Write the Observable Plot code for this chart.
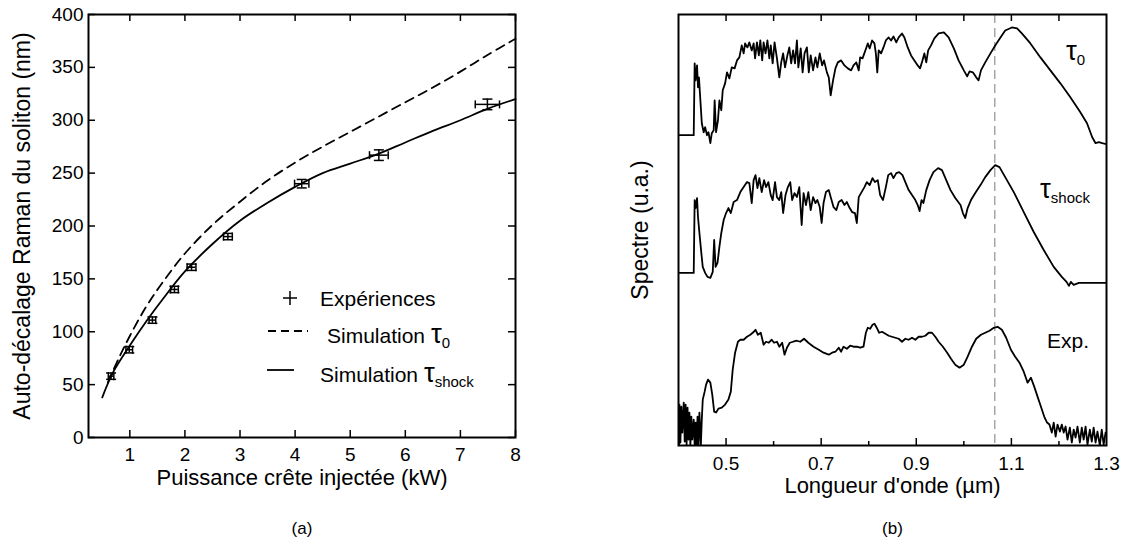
<!DOCTYPE html>
<html><head><meta charset="utf-8">
<script src="https://cdn.jsdelivr.net/npm/d3@7"></script>
<script src="https://cdn.jsdelivr.net/npm/@observablehq/plot@0.6"></script>
<style>
body{margin:0;background:#fff;}
#wrap{position:relative;width:1125px;height:551px;overflow:hidden;background:#fff;font-family:"Liberation Sans",Arial,sans-serif;color:#000;}
#pa,#pb{position:absolute;top:0}
#pa{left:0}
#pb{left:600px}
.lbl{position:absolute;white-space:nowrap;line-height:1;}
.tau{font-size:1.3em;}
.sub{font-size:15px;position:relative;top:5px;}
svg.sw{position:absolute;overflow:visible}
</style></head><body>
<div id="wrap">
<div id="pa"></div><div id="pb"></div>
<svg class="sw" style="left:0;top:0" width="1125" height="551">
  <line x1="283" y1="298" x2="297" y2="298" stroke="#000" stroke-width="1.5"/>
  <line x1="290" y1="291" x2="290" y2="305" stroke="#000" stroke-width="1.5"/>
  <line x1="268" y1="331" x2="308" y2="331" stroke="#000" stroke-width="1.8" stroke-dasharray="8,5"/>
  <line x1="267" y1="370" x2="294" y2="370" stroke="#000" stroke-width="1.8"/>
</svg>
<div class="lbl" style="left:320px;top:288px;font-size:21px">Expériences</div>
<div class="lbl" style="left:327px;top:320px;font-size:21px">Simulation <span class="tau">τ</span><span class="sub">0</span></div>
<div class="lbl" style="left:320px;top:359px;font-size:21px">Simulation <span class="tau">τ</span><span class="sub">shock</span></div>
<div class="lbl" style="left:1066px;top:37px;font-size:21px"><span class="tau">τ</span><span class="sub">0</span></div>
<div class="lbl" style="left:1040px;top:175px;font-size:21px"><span class="tau">τ</span><span class="sub">shock</span></div>
<div class="lbl" style="left:1047px;top:330px;font-size:21px">Exp.</div>
</div>
<script>
// ---------- Panel (a) data ----------
const expPowerKW = [0.66, 0.99, 1.41, 1.81, 2.12, 2.78, 4.12, 5.52, 7.49];
const expShiftNm = [58, 83, 111, 140, 161, 190, 240, 267, 315];
const expPowerErr = [0.05, 0.06, 0.06, 0.07, 0.08, 0.08, 0.13, 0.17, 0.22];
const expShiftErr = [3, 3, 3, 3, 3, 3, 4, 5, 5];

const simTau0Power = [0.6, 0.8, 1.0, 1.3, 1.6, 2.0, 2.5, 3.0, 3.5, 4.0, 4.5, 5.0, 5.5, 6.0, 6.5, 7.0, 7.5, 8.0];
const simTau0Shift = [52, 75, 96, 124, 147, 174, 201, 223, 243, 260, 275, 289, 303, 317, 331, 346, 362, 377];

const simShockPower = [0.5, 0.7, 1.0, 1.3, 1.6, 2.0, 2.5, 3.0, 3.5, 4.0, 4.5, 5.0, 5.5, 6.0, 6.5, 7.0, 7.5, 8.0];
const simShockShift = [38, 62, 87, 110, 131, 157, 183, 205, 222, 237, 250, 259, 268, 279, 290, 300, 311, 320];

const xTicksA = [1, 2, 3, 4, 5, 6, 7, 8];
const yTicksA = [0, 50, 100, 150, 200, 250, 300, 350, 400];

// ---------- Panel (b) data (spectra, arbitrary units incl. vertical offset) ----------
const tau0Lam = [0.400,0.432,0.434,0.436,0.439,0.441,0.443,0.446,0.449,0.453,
0.456,0.460,0.463,0.467,0.470,0.474,0.476,0.479,0.483,0.486,
0.490,0.493,0.498,0.502,0.507,0.512,0.518,0.523,0.528,0.533,
0.537,0.540,0.545,0.549,0.554,0.558,0.561,0.565,0.569,0.572,
0.576,0.579,0.583,0.587,0.591,0.594,0.598,0.602,0.607,0.612,
0.616,0.620,0.624,0.629,0.633,0.637,0.641,0.645,0.649,0.652,
0.657,0.661,0.665,0.670,0.674,0.678,0.683,0.688,0.692,0.697,
0.702,0.706,0.712,0.716,0.720,0.725,0.730,0.735,0.742,0.749,
0.756,0.763,0.768,0.774,0.779,0.782,0.787,0.793,0.798,0.802,
0.807,0.812,0.815,0.818,0.821,0.826,0.831,0.836,0.842,0.847,
0.852,0.858,0.863,0.870,0.875,0.882,0.889,0.896,0.903,0.908,
0.913,0.917,0.921,0.925,0.931,0.938,0.947,0.958,0.968,0.979,
0.989,1.000,1.007,1.012,1.019,1.026,1.031,1.036,1.045,1.056,
1.066,1.077,1.087,1.101,1.112,1.122,1.140,1.161,1.182,1.203,
1.224,1.245,1.259,1.270,1.277,1.284,1.291,1.300];
const tau0Int = [311,311,383,366,381,359,369,346,323,314,
319,311,314,303,313,316,346,314,326,346,
336,356,363,374,368,379,378,386,389,401,
393,403,399,404,396,403,388,404,391,406,
386,404,393,406,388,401,383,404,388,369,
384,393,379,391,399,383,396,383,406,379,
398,374,393,399,374,391,376,389,379,393,
381,386,374,369,351,366,378,384,386,381,
378,376,381,384,376,389,388,396,403,398,
406,403,393,374,396,393,399,406,409,406,
410,404,409,413,409,399,391,386,381,378,
386,393,384,396,401,408,413,414,409,398,
386,376,370,375,374,369,366,376,384,393,
401,409,416,419,418,413,403,389,376,363,
349,334,323,309,303,304,303,302];

const shockLam = [0.400,0.432,0.434,0.436,0.439,0.441,0.444,0.448,0.451,0.456,
0.461,0.467,0.472,0.475,0.478,0.482,0.486,0.490,0.495,0.500,
0.505,0.510,0.516,0.523,0.530,0.537,0.544,0.549,0.554,0.558,
0.562,0.566,0.570,0.575,0.580,0.584,0.589,0.594,0.598,0.603,
0.607,0.612,0.616,0.620,0.625,0.630,0.635,0.639,0.644,0.649,
0.654,0.659,0.663,0.668,0.673,0.678,0.683,0.688,0.692,0.697,
0.701,0.705,0.710,0.716,0.720,0.726,0.732,0.737,0.743,0.749,
0.754,0.760,0.765,0.771,0.775,0.779,0.785,0.791,0.796,0.802,
0.808,0.813,0.819,0.824,0.830,0.836,0.841,0.847,0.852,0.858,
0.864,0.871,0.877,0.884,0.891,0.898,0.903,0.907,0.911,0.915,
0.921,0.928,0.936,0.946,0.954,0.963,0.972,0.982,0.993,0.998,
1.003,1.008,1.015,1.024,1.035,1.045,1.056,1.066,1.075,1.087,
1.105,1.126,1.147,1.168,1.189,1.206,1.216,1.221,1.225,1.231,
1.242,1.259,1.280,1.300];
const shockInt = [173,173,246,238,248,229,213,193,179,173,
169,168,174,206,179,183,199,213,226,233,
238,233,244,246,254,259,264,263,243,266,
271,258,268,254,266,259,264,251,246,264,
249,246,254,233,251,259,264,246,253,249,
259,221,253,241,254,236,249,243,246,239,
223,243,254,256,249,239,236,244,246,241,
244,238,234,233,223,249,254,259,264,261,
268,264,266,251,246,259,271,273,268,273,
274,271,264,256,251,246,241,235,246,243,
256,266,274,278,276,266,256,248,241,233,
228,238,246,253,261,269,276,281,279,269,
254,234,214,196,179,169,164,160,164,161,
163,163,163,163];

const expLam = [0.401,0.402,0.404,0.406,0.408,0.411,0.413,0.415,0.417,0.419,
0.421,0.423,0.425,0.427,0.429,0.432,0.434,0.436,0.438,0.440,
0.442,0.444,0.447,0.449,0.451,0.455,0.458,0.462,0.467,0.471,
0.475,0.479,0.484,0.491,0.498,0.505,0.510,0.514,0.519,0.525,
0.530,0.537,0.544,0.551,0.556,0.562,0.567,0.573,0.579,0.584,
0.590,0.596,0.601,0.607,0.612,0.618,0.623,0.628,0.634,0.641,
0.649,0.656,0.664,0.673,0.684,0.695,0.705,0.716,0.723,0.730,
0.737,0.742,0.747,0.754,0.761,0.768,0.775,0.782,0.789,0.794,
0.798,0.803,0.808,0.812,0.817,0.822,0.828,0.835,0.842,0.849,
0.856,0.863,0.870,0.877,0.884,0.891,0.898,0.905,0.912,0.919,
0.926,0.933,0.940,0.947,0.956,0.965,0.973,0.982,0.991,1.000,
1.008,1.017,1.026,1.036,1.045,1.054,1.063,1.071,1.080,1.089,
1.099,1.108,1.117,1.126,1.134,1.141,1.148,1.155,1.162,1.169,
1.175,1.180,1.185,1.189,1.193,1.197,1.202,1.206,1.210,1.214,
1.218,1.223,1.227,1.231,1.235,1.239,1.244,1.248,1.252,1.256,
1.260,1.265,1.269,1.273,1.277,1.281,1.286,1.290,1.294,1.298];
const expInt = [0,41,3,39,13,43,4,41,1,38,
6,33,0,29,6,26,0,23,0,29,
0,33,0,26,46,54,61,66,63,51,
34,33,37,38,41,46,54,76,93,104,
106,106,109,111,113,116,111,113,101,104,
103,106,103,104,99,103,91,98,103,104,
105,104,107,103,99,96,93,91,93,94,
98,94,99,97,100,99,99,98,99,113,
118,117,121,122,118,113,114,112,110,109,
108,107,104,107,106,108,106,109,109,110,
113,113,109,104,99,93,87,81,78,81,
89,99,107,111,113,115,118,119,116,108,
96,89,83,74,63,68,59,49,39,29,
23,21,13,23,9,21,14,21,13,19,
6,18,3,16,8,19,3,18,6,19,
1,16,4,18,3,14,0,16,1,13];

const pumpLam = [1.065];
const xTicksB = [0.5, 0.7, 0.9, 1.1, 1.3];
const xMinorB = [0.6, 0.8, 1.0, 1.2];

// ---------- build tables ----------
const expPts = expPowerKW.map((p, i) => ({p, nm: expShiftNm[i], dp: expPowerErr[i], dn: expShiftErr[i]}));
const tau0Curve = simTau0Power.map((p, i) => ({p, nm: simTau0Shift[i]}));
const shockCurve = simShockPower.map((p, i) => ({p, nm: simShockShift[i]}));
const specTau0 = tau0Lam.map((l, i) => ({l, v: tau0Int[i]}));
const specShock = shockLam.map((l, i) => ({l, v: shockInt[i]}));
const specExp = expLam.map((l, i) => ({l, v: expInt[i]}));

const vBar = {draw(c, s) { const r = Math.sqrt(s / Math.PI); c.moveTo(0, -r); c.lineTo(0, r); }};
const hBar = {draw(c, s) { const r = Math.sqrt(s / Math.PI); c.moveTo(-r, 0); c.lineTo(r, 0); }};

const baseStyle = {fontFamily: "'Liberation Sans', Arial, sans-serif", fontSize: "19px", color: "#000", background: "transparent", overflow: "visible"};

// ---------- Panel (a) ----------
const A = {W: 560, H: 551, ml: 88, mr: 45, mt: 14, mb: 114};
const aFW = A.W - A.ml - A.mr, aFH = A.H - A.mt - A.mb;
const plotA = Plot.plot({
  width: A.W, height: A.H,
  marginLeft: A.ml, marginRight: A.mr, marginTop: A.mt, marginBottom: A.mb,
  style: baseStyle,
  x: {domain: [0.25, 8], axis: null},
  y: {domain: [0, 400], axis: null},
  marks: [
    Plot.tickX(xTicksA, {x: d => d, insetTop: aFH - 7, strokeWidth: 1.5}),
    Plot.tickX(xTicksA, {x: d => d, insetBottom: aFH - 7, strokeWidth: 1.5}),
    Plot.tickY(yTicksA, {y: d => d, insetRight: aFW - 7, strokeWidth: 1.5}),
    Plot.tickY(yTicksA, {y: d => d, insetLeft: aFW - 7, strokeWidth: 1.5}),
    Plot.axisX({ticks: xTicksA, tickSize: 0, tickPadding: 10, label: null, fontSize: 19}),
    Plot.axisY({ticks: yTicksA, tickSize: 0, tickPadding: 5, label: null, fontSize: 19}),
    Plot.line(tau0Curve, {x: "p", y: "nm", curve: "catmull-rom", strokeWidth: 1.8, strokeDasharray: "9,6"}),
    Plot.line(shockCurve, {x: "p", y: "nm", curve: "catmull-rom", strokeWidth: 1.8}),
    Plot.ruleY(expPts, {y: "nm", x1: d => d.p - d.dp, x2: d => d.p + d.dp, strokeWidth: 1.5}),
    Plot.ruleX(expPts, {x: "p", y1: d => d.nm - d.dn, y2: d => d.nm + d.dn, strokeWidth: 1.5}),
    Plot.dot(expPts, {x: d => d.p - d.dp, y: "nm", symbol: vBar, r: 4, stroke: "#000", fill: "none", strokeWidth: 1.5}),
    Plot.dot(expPts, {x: d => d.p + d.dp, y: "nm", symbol: vBar, r: 4, stroke: "#000", fill: "none", strokeWidth: 1.5}),
    Plot.dot(expPts, {x: "p", y: d => d.nm - d.dn, symbol: hBar, r: 5, stroke: "#000", fill: "none", strokeWidth: 1.5}),
    Plot.dot(expPts, {x: "p", y: d => d.nm + d.dn, symbol: hBar, r: 5, stroke: "#000", fill: "none", strokeWidth: 1.5}),
    Plot.frame({stroke: "#000", strokeWidth: 2}),
    Plot.text(["Puissance crête injectée (kW)"], {frameAnchor: "bottom", dy: 47, fontSize: 22, textAnchor: "middle"}),
    Plot.text(["Auto-décalage Raman du soliton (nm)"], {frameAnchor: "left", dx: -66, rotate: -90, fontSize: 23, textAnchor: "middle"}),
    Plot.text(["(a)"], {frameAnchor: "bottom", dy: 96, fontSize: 17, textAnchor: "middle"})
  ]
});
document.getElementById("pa").append(plotA);

// ---------- Panel (b) ----------
const B = {W: 525, H: 551, ml: 78, mr: 19, mt: 14, mb: 106};
const bFH = B.H - B.mt - B.mb;
const plotB = Plot.plot({
  width: B.W, height: B.H,
  marginLeft: B.ml, marginRight: B.mr, marginTop: B.mt, marginBottom: B.mb,
  style: baseStyle,
  x: {domain: [0.4, 1.3], axis: null},
  y: {domain: [0, 432], axis: null},
  marks: [
    Plot.ruleX(pumpLam, {x: d => d, stroke: "#a6a6a6", strokeWidth: 1.5, strokeDasharray: "9,5"}),
    Plot.tickX(xTicksB.slice(0, 4), {x: d => d, insetTop: bFH - 7, strokeWidth: 1.5}),
    Plot.tickX(xMinorB, {x: d => d, insetTop: bFH - 4, strokeWidth: 1.5}),
    Plot.tickX(xTicksB.slice(0, 4).concat(xMinorB), {x: d => d, insetBottom: bFH - 7, strokeWidth: 1.5}),
    Plot.axisX({ticks: xTicksB, tickFormat: d => d.toFixed(1), tickSize: 0, tickPadding: 11, label: null, fontSize: 19}),
    Plot.line(specTau0, {x: "l", y: "v", strokeWidth: 1.8, clip: true}),
    Plot.line(specShock, {x: "l", y: "v", strokeWidth: 1.8, clip: true}),
    Plot.line(specExp, {x: "l", y: "v", strokeWidth: 1.8, clip: true}),
    Plot.frame({stroke: "#000", strokeWidth: 2}),
    Plot.text(["Longueur d'onde (µm)"], {frameAnchor: "bottom", dy: 47, fontSize: 22, textAnchor: "middle"}),
    Plot.text(["Spectre (u.a.)"], {frameAnchor: "left", dx: -38, rotate: -90, fontSize: 23, textAnchor: "middle"}),
    Plot.text(["(b)"], {frameAnchor: "bottom", dy: 88, fontSize: 17, textAnchor: "middle"})
  ]
});
document.getElementById("pb").append(plotB);
</script>
</body></html>
